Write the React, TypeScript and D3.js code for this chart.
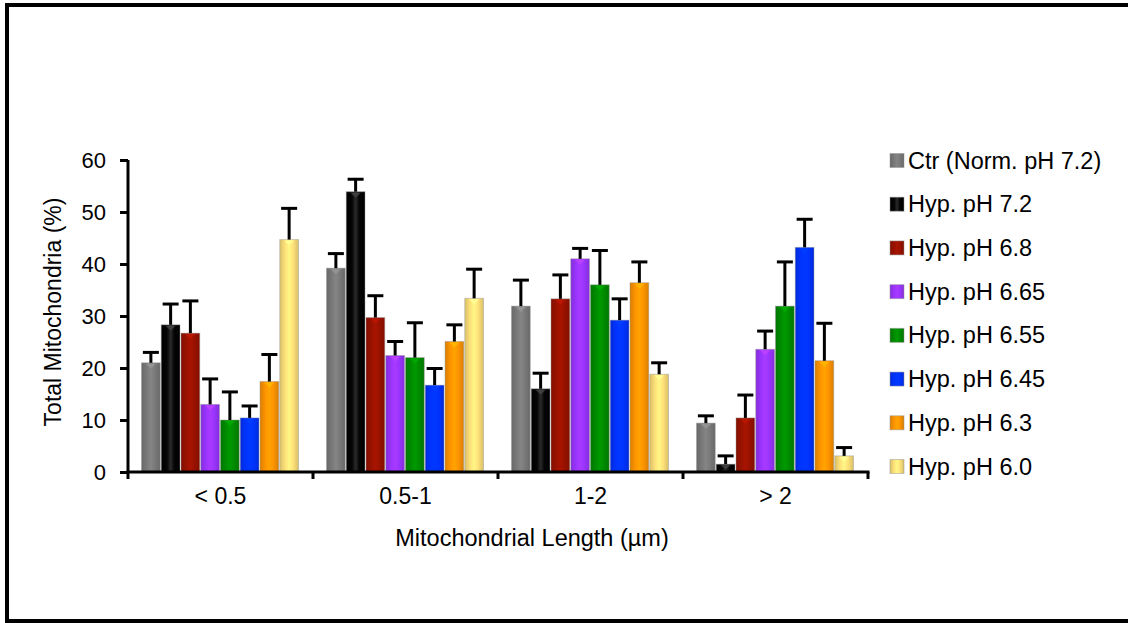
import React, { useEffect, useRef } from "react";
import * as d3 from "d3";

const categories = ["< 0.5", "0.5-1", "1-2", "> 2"];
const seriesNames = [
  "Ctr (Norm. pH 7.2)",
  "Hyp. pH 7.2",
  "Hyp. pH 6.8",
  "Hyp. pH 6.65",
  "Hyp. pH 6.55",
  "Hyp. pH 6.45",
  "Hyp. pH 6.3",
  "Hyp. pH 6.0",
];
const seriesColors = ["#7a7a7a", "#050505", "#9a1200", "#9b35ff", "#008c00", "#0033ff", "#ff9500", "#ffe27a"];

// mean % per category, one array per condition
const ctrNorm72 = [21.0, 39.2, 31.9, 9.4];
const hyp72 = [28.3, 53.9, 16.0, 1.5];
const hyp68 = [26.7, 29.7, 33.3, 10.4];
const hyp665 = [13.0, 22.4, 41.0, 23.6];
const hyp655 = [10.0, 22.0, 36.0, 31.9];
const hyp645 = [10.4, 16.7, 29.2, 43.2];
const hyp63 = [17.4, 25.1, 36.4, 21.4];
const hyp60 = [44.7, 33.4, 18.8, 3.1];

// error (upper bar only)
const ctrNorm72Err = [2.0, 2.8, 5.0, 1.4];
const hyp72Err = [4.0, 2.4, 3.0, 1.6];
const hyp68Err = [6.2, 4.2, 4.6, 4.4];
const hyp665Err = [4.9, 2.7, 2.0, 3.5];
const hyp655Err = [5.4, 6.7, 6.6, 8.5];
const hyp645Err = [2.3, 3.2, 4.1, 5.4];
const hyp63Err = [5.2, 3.2, 4.0, 7.2];
const hyp60Err = [6.0, 5.6, 2.2, 1.6];

const yTicks = [0, 10, 20, 30, 40, 50, 60];

const means = [ctrNorm72, hyp72, hyp68, hyp665, hyp655, hyp645, hyp63, hyp60];
const errs = [ctrNorm72Err, hyp72Err, hyp68Err, hyp665Err, hyp655Err, hyp645Err, hyp63Err, hyp60Err];

const FONT = "'Liberation Sans', Arial, Helvetica, sans-serif";

const App = () => {
  const svgRef = useRef<SVGSVGElement>(null);

  useEffect(() => {
    const W = 1128;
    const H = 623;
    const svg = d3.select(svgRef.current).attr("width", W).attr("height", H);
    svg.selectAll("*").remove();

    const defs = svg.append("defs");
    seriesColors.forEach((c, i) => {
      const base = d3.color(c)!;
      const grad = defs.append("linearGradient")
        .attr("id", `bar-grad-${i}`)
        .attr("x1", "0%").attr("x2", "100%")
        .attr("y1", "0%").attr("y2", "0%");
      const dark = i === 1 ? "#000" : base.darker(0.45).formatHex();
      const light = i === 1 ? "#2a2a2a" : base.brighter(0.25).formatHex();
      grad.append("stop").attr("offset", "0%").attr("stop-color", dark);
      grad.append("stop").attr("offset", "30%").attr("stop-color", c);
      grad.append("stop").attr("offset", "50%").attr("stop-color", light);
      grad.append("stop").attr("offset", "70%").attr("stop-color", c);
      grad.append("stop").attr("offset", "100%").attr("stop-color", dark);
    });

    svg.append("rect")
      .attr("x", 0).attr("y", 0).attr("width", W).attr("height", H)
      .attr("fill", "white");

    // frame
    svg.append("rect")
      .attr("x", 7).attr("y", 5).attr("width", W + 20).attr("height", 616)
      .attr("fill", "none").attr("stroke", "black").attr("stroke-width", 4);

    const x0 = d3.scaleBand().domain(categories).range([128, 868]);
    const x1 = d3.scaleBand().domain(seriesNames).range([13, 171]);
    const y = d3.scaleLinear().domain([0, 60]).range([472, 160]);

    const g = svg.append("g");

    // bars
    categories.forEach((cat, ci) => {
      const cg = g.append("g").attr("transform", `translate(${x0(cat)},0)`);
      seriesNames.forEach((s, si) => {
        const v = means[si][ci];
        const bx = x1(s)!;
        const bw = x1.bandwidth();
        const top = y(v);
        cg.append("rect")
          .attr("x", bx + 0.5).attr("y", top)
          .attr("width", bw - 1).attr("height", y(0) - top)
          .attr("fill", `url(#bar-grad-${si})`)
          .attr("stroke", "rgba(150,150,150,0.45)")
          .attr("stroke-width", 1);
        // glossy tip
        const tip = Math.min(5, (y(0) - top) / 2);
        const hi = si === 1 ? "#444" : d3.color(seriesColors[si])!.brighter(0.6).formatHex();
        cg.append("path")
          .attr("d", `M${bx + bw / 2 - 5},${top + 1}L${bx + bw / 2 + 5},${top + 1}L${bx + bw / 2},${top + 1 + tip}Z`)
          .attr("fill", hi).attr("opacity", 0.85);
      });
      // error bars
      seriesNames.forEach((s, si) => {
        const v = means[si][ci];
        const e = errs[si][ci];
        const cx = x1(s)! + x1.bandwidth() / 2;
        cg.append("line")
          .attr("x1", cx).attr("x2", cx)
          .attr("y1", y(v)).attr("y2", y(v + e))
          .attr("stroke", "black").attr("stroke-width", 3);
        cg.append("line")
          .attr("x1", cx - 8).attr("x2", cx + 8)
          .attr("y1", y(v + e)).attr("y2", y(v + e))
          .attr("stroke", "black").attr("stroke-width", 3);
      });
    });

    // y axis
    const yAxis = g.append("g")
      .attr("transform", "translate(128,0)")
      .call(d3.axisLeft(y).tickValues(yTicks).tickSize(8).tickPadding(14));
    yAxis.select(".domain").attr("stroke-width", 3).attr("d", `M0,${y(60)}V${y(0)}`);
    yAxis.selectAll(".tick line").attr("stroke-width", 3);
    yAxis.selectAll("text")
      .attr("font-family", FONT).attr("font-size", 22).attr("fill", "black");

    // x axis
    const xAxis = g.append("g")
      .attr("transform", `translate(0,${y(0)})`)
      .call(d3.axisBottom(x0).tickSize(0).tickPadding(16));
    xAxis.select(".domain").attr("stroke-width", 3).attr("d", "M126.5,0H869.5");
    xAxis.selectAll("text")
      .attr("font-family", FONT).attr("font-size", 23).attr("fill", "black");
    const boundaries = [...categories.map((c) => x0(c)!), 868];
    xAxis.selectAll(".bnd").data(boundaries).enter().append("line")
      .attr("x1", (d) => d).attr("x2", (d) => d)
      .attr("y1", 0).attr("y2", 7)
      .attr("stroke", "black").attr("stroke-width", 3);

    // axis titles
    svg.append("text")
      .attr("transform", `translate(61,312) rotate(-90)`)
      .attr("text-anchor", "middle")
      .attr("font-family", FONT).attr("font-size", 23)
      .text("Total Mitochondria (%)");

    svg.append("text")
      .attr("x", 532).attr("y", 546)
      .attr("text-anchor", "middle")
      .attr("font-family", FONT).attr("font-size", 23.5)
      .text("Mitochondrial Length (µm)");

    // legend
    const legend = svg.append("g");
    const rowY = d3.scalePoint().domain(seriesNames).range([160.5, 466.5]);
    seriesNames.forEach((s, i) => {
      const cy = rowY(s)!;
      legend.append("rect")
        .attr("x", 890).attr("y", cy - 7).attr("width", 14).attr("height", 14)
        .attr("fill", `url(#bar-grad-${i})`)
        .attr("stroke", "rgba(150,150,150,0.5)").attr("stroke-width", 1);
      legend.append("text")
        .attr("x", 908).attr("y", cy + 8)
        .attr("font-family", FONT).attr("font-size", 23.5)
        .text(s);
    });
  }, []);

  return (
    <div style={{ position: "absolute", left: 0, top: 0 }}>
      <svg ref={svgRef} style={{ display: "block" }}></svg>
    </div>
  );
};

export default App;
